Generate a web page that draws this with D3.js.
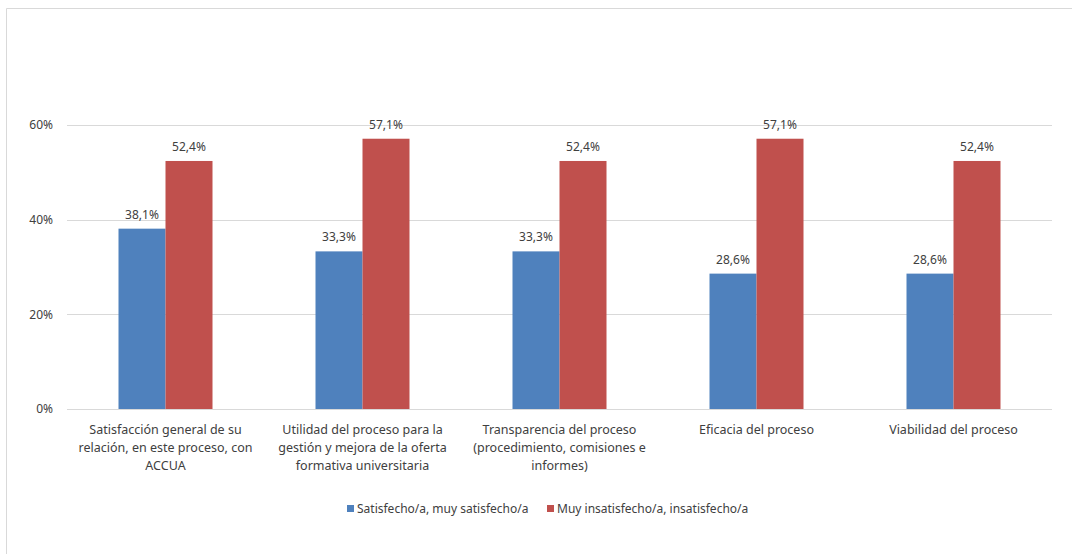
<!DOCTYPE html>
<html>
<head>
<meta charset="utf-8">
<script src="https://d3js.org/d3.v7.min.js"></script>
<style>
body { margin: 0; background: #fff; }
text { font-family: "Noto Sans", sans-serif; fill: #404040; }
</style>
</head>
<body>
<svg id="chart" width="1072" height="554"></svg>
<script>
var categories = [
  ["Satisfacción general de su", "relación, en este proceso, con", "ACCUA"],
  ["Utilidad del proceso para la", "gestión y mejora de la oferta", "formativa universitaria"],
  ["Transparencia del proceso", "(procedimiento, comisiones e", "informes)"],
  ["Eficacia del proceso"],
  ["Viabilidad del proceso"]
];
var seriesNames = ["Satisfecho/a, muy satisfecho/a", "Muy insatisfecho/a, insatisfecho/a"];
var satisfechos = [38.1, 33.3, 33.3, 28.6, 28.6];
var insatisfechos = [52.4, 57.1, 52.4, 57.1, 52.4];
var yTicks = [0, 20, 40, 60];
var colors = ["#4F81BD", "#C0504D"];

var svg = d3.select("#chart");

// chart border
svg.append("path")
  .attr("d", "M6.5,554 L6.5,8.5 L1072,8.5")
  .attr("fill", "none")
  .attr("stroke", "#d9d9d9");

var plotLeft = 67, plotRight = 1052, plotTop = 125, plotBottom = 409;

var x = d3.scaleBand().domain(d3.range(categories.length)).range([plotLeft, plotRight]);
var y = d3.scaleLinear().domain([0, 60]).range([plotBottom, plotTop]);
var barW = 47;
var fmt = function (v) { return v.toFixed(1).replace(".", ",") + "%"; };

// gridlines
svg.selectAll(".grid").data(yTicks).enter().append("line")
  .attr("x1", plotLeft).attr("x2", plotRight)
  .attr("y1", function (d) { return Math.round(y(d)) + 0.5; })
  .attr("y2", function (d) { return Math.round(y(d)) + 0.5; })
  .attr("stroke", "#d9d9d9");

svg.selectAll(".ytick").data(yTicks).enter().append("text")
  .attr("x", 53).attr("y", function (d) { return y(d); })
  .attr("dy", "0.35em")
  .attr("text-anchor", "end")
  .style("font-size", "12px")
  .text(function (d) { return d + "%"; });

var series = [satisfechos, insatisfechos];
series.forEach(function (vals, s) {
  var g = svg.append("g");
  g.selectAll("rect").data(vals).enter().append("rect")
    .attr("x", function (d, i) { return x(i) + x.bandwidth() / 2 - barW + s * barW; })
    .attr("y", function (d) { return y(d); })
    .attr("width", barW)
    .attr("height", function (d) { return plotBottom - y(d); })
    .attr("fill", colors[s]);
  g.selectAll("text").data(vals).enter().append("text")
    .attr("x", function (d, i) { return x(i) + x.bandwidth() / 2 - barW / 2 + s * barW; })
    .attr("y", function (d) { return y(d) - 10; })
    .attr("text-anchor", "middle")
    .style("font-size", "12px")
    .text(fmt);
});

// category labels
categories.forEach(function (lines, i) {
  var t = svg.append("text")
    .attr("text-anchor", "middle")
    .style("font-size", "12.5px");
  lines.forEach(function (ln, j) {
    t.append("tspan")
      .attr("x", x(i) + x.bandwidth() / 2)
      .attr("y", 434 + j * 18)
      .text(ln);
  });
});

// legend
var legX = [347, 547];
seriesNames.forEach(function (name, s) {
  svg.append("rect")
    .attr("x", legX[s]).attr("y", 505)
    .attr("width", 7).attr("height", 7)
    .attr("fill", colors[s]);
  svg.append("text")
    .attr("x", legX[s] + 10).attr("y", 509)
    .attr("dy", "0.35em")
    .style("font-size", "12px")
    .text(name);
});
</script>
</body>
</html>
